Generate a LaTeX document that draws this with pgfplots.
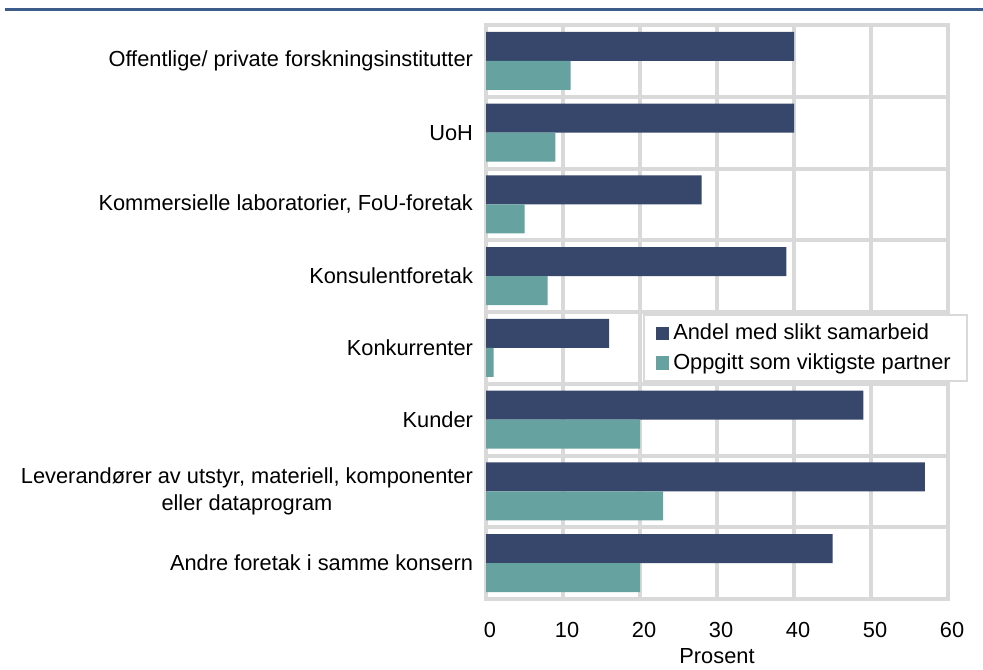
\documentclass[border=0pt]{standalone}
\usepackage{fontspec}
\setmainfont{Liberation Sans}
\usepackage{pgfplots}
\pgfplotsset{compat=1.18}
\definecolor{darkbar}{RGB}{54,71,107}
\definecolor{tealbar}{RGB}{101,162,160}
\definecolor{gridgray}{RGB}{217,217,217}
\definecolor{topline}{RGB}{62,92,138}
\begin{document}
\begin{tikzpicture}[x=1pt,y=1pt]
\useasboundingbox (0,0) rectangle (491.5,334.5);
\draw[topline, line width=1.5pt] (2.5,329.5) -- (491.5,329.5);
\begin{axis}[
  at={(243pt,35pt)}, anchor=south west,
  scale only axis, width=231pt, height=287pt,
  xbar=0pt, bar width=14.5pt,
  xmin=0, xmax=60, ymin=-0.5, ymax=7.5, y dir=reverse,
  xtick={0,10,...,60},
  ytick={0,...,7},
  yticklabels={{Offentlige/ private forskningsinstitutter},{UoH},{Kommersielle laboratorier, FoU-foretak},{Konsulentforetak},{Konkurrenter},{Kunder},{Leverandører av utstyr, materiell, komponenter\\eller dataprogram},{Andre foretak i samme konsern}},
  yticklabel style={align=center, font=\fontsize{10.9}{13.5}\selectfont, xshift=-3pt},
  xticklabel style={font=\fontsize{10.9}{12}\selectfont, yshift=-8pt, xshift=2pt},
  /pgf/number format/assume math mode=true,
  minor ytick={-0.5,0.5,...,7.5},
  yminorgrids=true, ymajorgrids=false, xmajorgrids=true,
  grid style={draw=gridgray, line width=2pt},
  minor grid style={draw=gridgray, line width=2pt},
  major tick length=0pt, minor tick length=0pt,
  axis line style={draw=gridgray, line width=2pt},
  xlabel={Prosent},
  xlabel style={font=\fontsize{10.9}{12}\selectfont, yshift=1.5pt},
  legend style={at={(rel axis cs:0.34,0.497)}, anchor=north west,
    draw=gridgray, line width=1pt, fill=white,
    font=\fontsize{10.9}{12}\selectfont,
    inner xsep=6pt, inner ysep=2.5pt, row sep=1.5pt,
    legend cell align=left},
  legend image code/.code={\fill[#1] (0pt,-3.3pt) rectangle (6.6pt,3.3pt);},
]
\addplot[fill=darkbar, draw=none, bar shift=7.25pt] coordinates {(40,0) (40,1) (28,2) (39,3) (16,4) (49,5) (57,6) (45,7)};
\addplot[fill=tealbar, draw=none, bar shift=-7.25pt] coordinates {(11,0) (9,1) (5,2) (8,3) (1,4) (20,5) (23,6) (20,7)};
\legend{Andel med slikt samarbeid, Oppgitt som viktigste partner}
\end{axis}
\end{tikzpicture}
\end{document}
